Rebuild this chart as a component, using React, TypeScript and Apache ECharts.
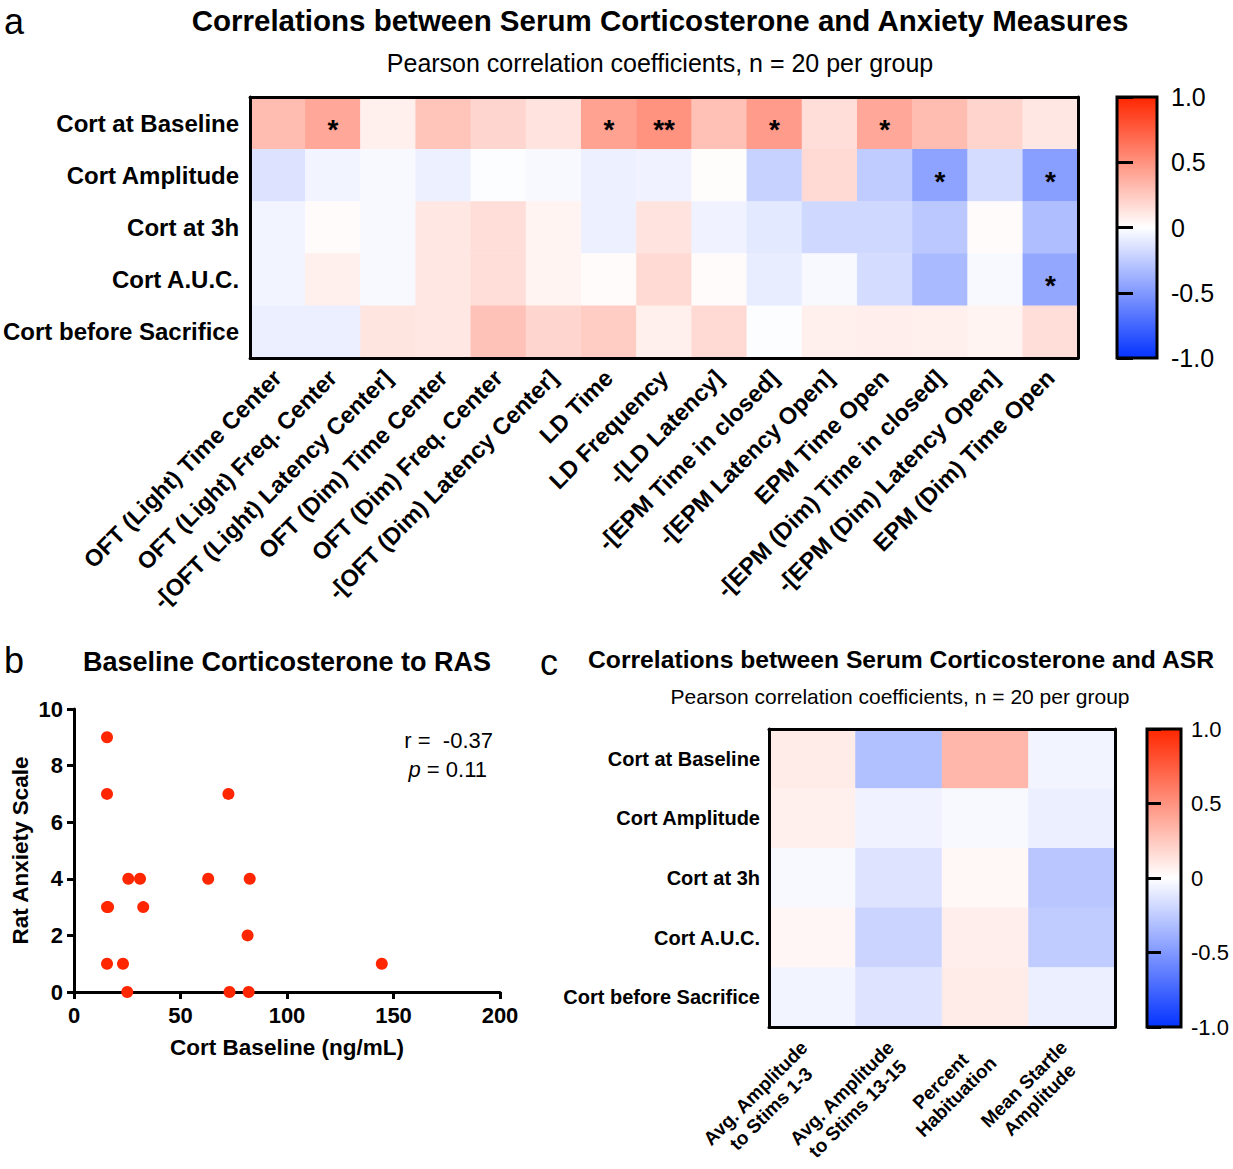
import React, { useEffect, useRef } from "react";
import * as echarts from "echarts";

const FONT = '"Liberation Sans", Arial, Helvetica, sans-serif';

// ---------- Panel a ----------
const rowsA = ["Cort at Baseline", "Cort Amplitude", "Cort at 3h", "Cort A.U.C.", "Cort before Sacrifice"];
const colsA = [
  "OFT (Light) Time Center",
  "OFT (Light) Freq. Center",
  "-[OFT (Light) Latency Center]",
  "OFT (Dim) Time Center",
  "OFT (Dim) Freq. Center",
  "-[OFT (Dim) Latency Center]",
  "LD Time",
  "LD Frequency",
  "-[LD Latency]",
  "-[EPM Time in closed]",
  "-[EPM Latency Open]",
  "EPM Time Open",
  "-[EPM (Dim) Time in closed]",
  "-[EPM (Dim) Latency Open]",
  "EPM (Dim) Time Open",
];
const baselineA = [0.31, 0.4, 0.07, 0.27, 0.19, 0.13, 0.43, 0.5, 0.29, 0.46, 0.15, 0.4, 0.31, 0.2, 0.11];
const amplitudeA = [-0.14, -0.05, -0.03, -0.07, -0.01, -0.03, -0.07, -0.06, 0.01, -0.22, 0.17, -0.25, -0.45, -0.17, -0.47];
const h3A = [-0.05, 0.02, -0.03, 0.11, 0.15, 0.05, -0.07, 0.13, -0.06, -0.11, -0.19, -0.19, -0.27, 0.02, -0.32];
const aucA = [-0.05, 0.07, -0.03, 0.11, 0.15, 0.05, 0.02, 0.17, 0.02, -0.09, -0.03, -0.17, -0.34, -0.03, -0.43];
const sacrificeA = [-0.08, -0.08, 0.12, 0.11, 0.28, 0.19, 0.23, 0.07, 0.17, -0.01, 0.07, 0.08, 0.07, 0.05, 0.15];
const starsBaselineA = ["", "*", "", "", "", "", "*", "**", "", "*", "", "*", "", "", ""];
const starsAmplitudeA = ["", "", "", "", "", "", "", "", "", "", "", "", "*", "", "*"];
const starsH3A = ["", "", "", "", "", "", "", "", "", "", "", "", "", "", ""];
const starsAucA = ["", "", "", "", "", "", "", "", "", "", "", "", "", "", "*"];
const starsSacrificeA = ["", "", "", "", "", "", "", "", "", "", "", "", "", "", ""];

// ---------- Panel b ----------
const cortBaseline = [15.5, 15.5, 15.5, 16, 15.5, 23, 25.5, 31, 32.5, 25, 63, 72.5, 73, 81.5, 82.5, 82, 144.5];
const anxietyScale = [9, 7, 3, 3, 1, 1, 4, 4, 3, 0, 4, 7, 0, 2, 4, 0, 1];

// ---------- Panel c ----------
const rowsC = ["Cort at Baseline", "Cort Amplitude", "Cort at 3h", "Cort A.U.C.", "Cort before Sacrifice"];
const colsC = ["Avg. Amplitude\nto Stims 1-3", "Avg. Amplitude\nto Stims 13-15", "Percent\nHabituation", "Mean Startle\nAmplitude"];
const baselineC = [0.09, -0.31, 0.33, -0.05];
const amplitudeC = [0.07, -0.06, -0.03, -0.08];
const h3C = [-0.03, -0.13, 0.03, -0.28];
const aucC = [0.04, -0.21, 0.08, -0.25];
const sacrificeC = [-0.05, -0.13, 0.09, -0.08];

const RED = "#ff2600";
const BLUE = "#0433ff";

function buildHeat(rows: number[][]) {
  const out: number[][] = [];
  rows.forEach((r, ri) => r.forEach((v, ci) => out.push([ci, ri, v])));
  return out;
}

export default function App() {
  const ref = useRef<HTMLDivElement>(null);
  useEffect(() => {
    if (!ref.current) return;
    const chart = echarts.init(ref.current, null, { renderer: "svg" });

    const matA = [baselineA, amplitudeA, h3A, aucA, sacrificeA];
    const starsA = [starsBaselineA, starsAmplitudeA, starsH3A, starsAucA, starsSacrificeA];
    const matC = [baselineC, amplitudeC, h3C, aucC, sacrificeC];

    const black = "#000";
    const lineAxis = (extra: any) => ({
      axisLine: { show: true, lineStyle: { color: black, width: 3 } },
      axisTick: { show: false },
      splitLine: { show: false },
      z: 5,
      ...extra,
    });
    const gradient = () =>
      new echarts.graphic.LinearGradient(0, 0, 0, 1, [
        { offset: 0, color: RED },
        { offset: 0.5, color: "#ffffff" },
        { offset: 1, color: BLUE },
      ]);
    const cbFmt = (v: number) => (v === 0 ? "0" : v.toFixed(1));

    const cbAxes = (gridIndex: number, tickLen: number, fontSize: number, margin: number) => [
      {
        type: "value",
        gridIndex,
        position: "right",
        min: -1,
        max: 1,
        interval: 0.5,
        offset: -tickLen,
        axisLine: { show: false },
        axisTick: { show: true, length: tickLen, lineStyle: { color: black, width: 3 } },
        splitLine: { show: false },
        axisLabel: { margin: margin + tickLen, fontSize, color: black, fontFamily: FONT, formatter: cbFmt },
      },
      {
        type: "value",
        gridIndex,
        position: "left",
        min: -1,
        max: 1,
        interval: 0.5,
        offset: -tickLen,
        axisLine: { show: false },
        axisTick: { show: true, length: tickLen, lineStyle: { color: black, width: 3 } },
        splitLine: { show: false },
        axisLabel: { show: false },
      },
    ];

    const text = (t: string, x: number, y: number, size: number, weight: string, align: string, rich?: any) => ({
      type: "text",
      x,
      y,
      style: {
        text: t,
        fontSize: size,
        fontWeight: weight,
        fontFamily: FONT,
        fill: black,
        align,
        textAlign: align,
        verticalAlign: "middle",
        textVerticalAlign: "middle",
        rich,
      },
    });

    const option: any = {
      animation: false,
      backgroundColor: "#ffffff",
      grid: [
        { left: 247, top: 97, width: 831, height: 261 }, // 0 heat a
        { left: 1117, top: 97, width: 40, height: 261, show: true, backgroundColor: gradient(), borderColor: black, borderWidth: 3 }, // 1 cb a
        { left: 74, top: 709, width: 426, height: 283 }, // 2 scatter
        { left: 769, top: 729, width: 346, height: 298 }, // 3 heat c
        { left: 1147, top: 729, width: 34, height: 298, show: true, backgroundColor: gradient(), borderColor: black, borderWidth: 3 }, // 4 cb c
      ],
      xAxis: [
        lineAxis({
          type: "category",
          gridIndex: 0,
          data: colsA,
          position: "bottom",
          axisLabel: { rotate: 45, interval: 0, margin: 16, fontSize: 23.5, fontWeight: "bold", color: black, fontFamily: FONT },
        }),
        lineAxis({ type: "category", gridIndex: 0, data: colsA, position: "top", axisLabel: { show: false } }),
        { type: "value", gridIndex: 1, show: false, min: 0, max: 1 },
        {
          type: "value",
          gridIndex: 2,
          min: 0,
          max: 200,
          interval: 50,
          axisLine: { show: true, lineStyle: { color: black, width: 3 } },
          axisTick: { show: true, length: 7, lineStyle: { color: black, width: 3 } },
          splitLine: { show: false },
          axisLabel: { margin: 12, fontSize: 22, fontWeight: "bold", color: black, fontFamily: FONT },
          name: "Cort Baseline (ng/mL)",
          nameLocation: "middle",
          nameGap: 44,
          nameTextStyle: { fontSize: 22.5, fontWeight: "bold", color: black, fontFamily: FONT },
        },
        lineAxis({
          type: "category",
          gridIndex: 3,
          data: colsC,
          position: "bottom",
          axisLabel: {
            rotate: 45,
            interval: 0,
            margin: 25,
            color: black,
            formatter: (v: string) => v.split("\n").map((s) => `{c|${s}}`).join("\n"),
            rich: { c: { fontSize: 19, fontWeight: "bold", fontFamily: FONT, color: black, align: "center", lineHeight: 22 } },
          },
        }),
        lineAxis({ type: "category", gridIndex: 3, data: colsC, position: "top", axisLabel: { show: false } }),
        { type: "value", gridIndex: 4, show: false, min: 0, max: 1 },
      ],
      yAxis: [
        lineAxis({
          type: "category",
          gridIndex: 0,
          data: rowsA,
          inverse: true,
          position: "left",
          axisLabel: { margin: 11, fontSize: 24, fontWeight: "bold", color: black, fontFamily: FONT },
        }),
        lineAxis({ type: "category", gridIndex: 0, data: rowsA, inverse: true, position: "right", axisLabel: { show: false } }),
        ...cbAxes(1, 8, 25, 14),
        {
          type: "value",
          gridIndex: 2,
          min: 0,
          max: 10,
          interval: 2,
          axisLine: { show: true, lineStyle: { color: black, width: 3 } },
          axisTick: { show: true, length: 7, lineStyle: { color: black, width: 3 } },
          splitLine: { show: false },
          axisLabel: { margin: 11, fontSize: 22, fontWeight: "bold", color: black, fontFamily: FONT },
          name: "Rat Anxiety Scale",
          nameLocation: "middle",
          nameGap: 42,
          nameTextStyle: { fontSize: 22.5, fontWeight: "bold", color: black, fontFamily: FONT },
        },
        lineAxis({
          type: "category",
          gridIndex: 3,
          data: rowsC,
          inverse: true,
          position: "left",
          axisLabel: { margin: 9, fontSize: 20, fontWeight: "bold", color: black, fontFamily: FONT },
        }),
        lineAxis({ type: "category", gridIndex: 3, data: rowsC, inverse: true, position: "right", axisLabel: { show: false } }),
        ...cbAxes(4, 7, 22, 10),
      ],
      visualMap: [
        { type: "continuous", show: false, min: -1, max: 1, seriesIndex: [0, 2], dimension: 2, inRange: { color: [BLUE, "#ffffff", RED] } },
      ],
      series: [
        {
          type: "heatmap",
          xAxisIndex: 0,
          yAxisIndex: 0,
          data: buildHeat(matA),
          itemStyle: { borderWidth: 0 },
          emphasis: { disabled: true },
          label: {
            show: true,
            formatter: (p: any) => starsA[p.data[1]][p.data[0]],
            fontSize: 28,
            fontWeight: "bold",
            color: black,
            fontFamily: FONT,
            offset: [0, 6],
          },
        },
        {
          type: "scatter",
          xAxisIndex: 3,
          yAxisIndex: 4,
          data: cortBaseline.map((x, i) => [x, anxietyScale[i]]),
          symbolSize: 12,
          itemStyle: { color: RED, opacity: 1 },
          z: 10,
        },
        {
          type: "heatmap",
          xAxisIndex: 4,
          yAxisIndex: 6,
          data: buildHeat(matC),
          itemStyle: { borderWidth: 0 },
          emphasis: { disabled: true },
        },
      ],
      graphic: [
        text("a", 4, 21, 36, "normal", "left"),
        text("Correlations between Serum Corticosterone and Anxiety Measures", 660, 20, 29.5, "bold", "center"),
        text("Pearson correlation coefficients, n = 20 per group", 660, 63, 25, "normal", "center"),
        text("b", 4, 660, 36, "normal", "left"),
        text("Baseline Corticosterone to RAS", 287, 662, 27, "bold", "center"),
        text("r =  -0.37", 493, 740, 22, "normal", "right"),
        text("{i|p} = 0.11", 487, 769, 22, "normal", "right", { i: { fontStyle: "italic", fontSize: 22, fontFamily: FONT, fill: black } }),
        text("c", 540, 662, 36, "normal", "left"),
        text("Correlations between Serum Corticosterone and ASR", 901, 659, 24.7, "bold", "center"),
        text("Pearson correlation coefficients, n = 20 per group", 900, 696, 21, "normal", "center"),
      ],
    };
    chart.setOption(option);
    return () => chart.dispose();
  }, []);
  return <div ref={ref} style={{ position: "absolute", left: 0, top: 0, width: 1233, height: 1169 }} />;
}
